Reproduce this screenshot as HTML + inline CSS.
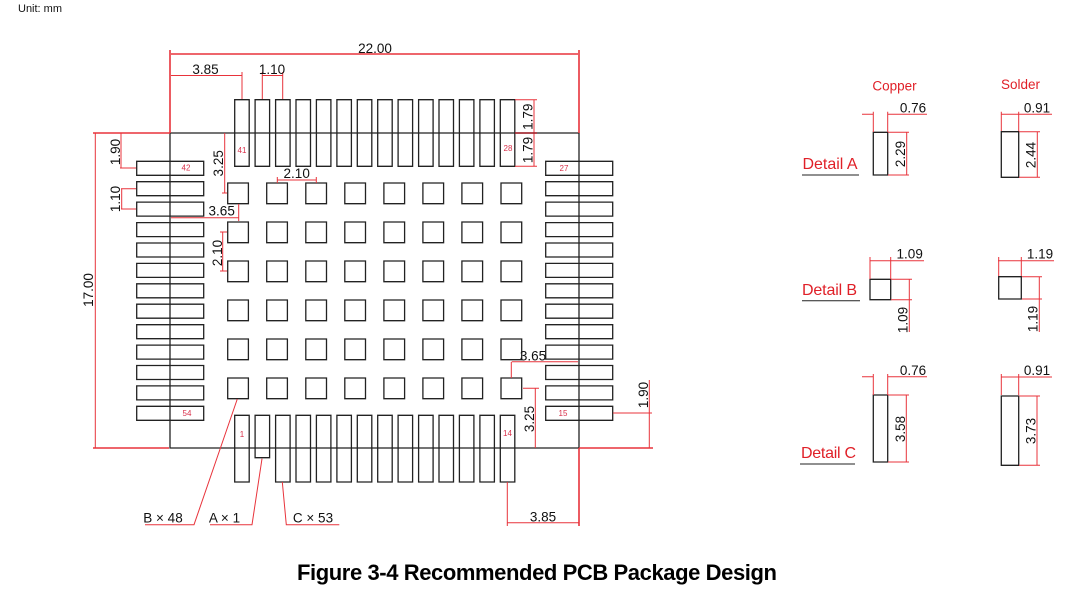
<!DOCTYPE html>
<html><head><meta charset="utf-8"><style>
html,body{margin:0;padding:0;background:#fff}
svg{display:block}
text{font-family:"Liberation Sans",sans-serif;font-size:13.5px;fill:#111;text-anchor:middle}
.r{stroke:#e8333b;stroke-width:1;fill:none}
.h{stroke:#e8333b;stroke-width:1.6;fill:none}
.k{stroke:#222;stroke-width:1.3;fill:none}
.n{font-size:8px;fill:#d9304a}
.d{font-size:16px;fill:#e02028;text-anchor:start}
.c{fill:#e02028}
</style></head><body>
<svg width="1082" height="593" viewBox="0 0 1082 593" xmlns="http://www.w3.org/2000/svg">
<text x="18" y="12" style="font-size:11px;text-anchor:start">Unit: mm</text>

<path class="k" d="M234.7 99.7h14.5v66.6h-14.5zM255.1 99.7h14.5v66.6h-14.5zM275.6 99.7h14.5v66.6h-14.5zM296 99.7h14.5v66.6h-14.5zM316.4 99.7h14.5v66.6h-14.5zM336.9 99.7h14.5v66.6h-14.5zM357.3 99.7h14.5v66.6h-14.5zM377.7 99.7h14.5v66.6h-14.5zM398.1 99.7h14.5v66.6h-14.5zM418.6 99.7h14.5v66.6h-14.5zM439 99.7h14.5v66.6h-14.5zM459.4 99.7h14.5v66.6h-14.5zM479.9 99.7h14.5v66.6h-14.5zM500.3 99.7h14.5v66.6h-14.5z"/>
<path class="k" d="M234.7 415.3h14.5v66.7h-14.5zM255.1 415.3h14.5v42.4h-14.5zM275.6 415.3h14.5v66.7h-14.5zM296 415.3h14.5v66.7h-14.5zM316.4 415.3h14.5v66.7h-14.5zM336.9 415.3h14.5v66.7h-14.5zM357.3 415.3h14.5v66.7h-14.5zM377.7 415.3h14.5v66.7h-14.5zM398.1 415.3h14.5v66.7h-14.5zM418.6 415.3h14.5v66.7h-14.5zM439 415.3h14.5v66.7h-14.5zM459.4 415.3h14.5v66.7h-14.5zM479.9 415.3h14.5v66.7h-14.5zM500.3 415.3h14.5v66.7h-14.5z"/>
<path class="k" d="M136.7 161.3h67v14h-67zM136.7 181.7h67v14h-67zM136.7 202.1h67v14h-67zM136.7 222.6h67v14h-67zM136.7 243h67v14h-67zM136.7 263.4h67v14h-67zM136.7 283.8h67v14h-67zM136.7 304.2h67v14h-67zM136.7 324.7h67v14h-67zM136.7 345.1h67v14h-67zM136.7 365.5h67v14h-67zM136.7 385.9h67v14h-67zM136.7 406.3h67v14h-67z"/>
<path class="k" d="M545.7 161.3h67v14h-67zM545.7 181.7h67v14h-67zM545.7 202.1h67v14h-67zM545.7 222.6h67v14h-67zM545.7 243h67v14h-67zM545.7 263.4h67v14h-67zM545.7 283.8h67v14h-67zM545.7 304.2h67v14h-67zM545.7 324.7h67v14h-67zM545.7 345.1h67v14h-67zM545.7 365.5h67v14h-67zM545.7 385.9h67v14h-67zM545.7 406.3h67v14h-67z"/>
<path class="k" d="M227.7 183h20.7v20.7h-20.7zM266.7 183h20.7v20.7h-20.7zM305.8 183h20.7v20.7h-20.7zM344.8 183h20.7v20.7h-20.7zM383.9 183h20.7v20.7h-20.7zM422.9 183h20.7v20.7h-20.7zM461.9 183h20.7v20.7h-20.7zM501 183h20.7v20.7h-20.7z
M227.7 222h20.7v20.7h-20.7zM266.7 222h20.7v20.7h-20.7zM305.8 222h20.7v20.7h-20.7zM344.8 222h20.7v20.7h-20.7zM383.9 222h20.7v20.7h-20.7zM422.9 222h20.7v20.7h-20.7zM461.9 222h20.7v20.7h-20.7zM501 222h20.7v20.7h-20.7z
M227.7 261h20.7v20.7h-20.7zM266.7 261h20.7v20.7h-20.7zM305.8 261h20.7v20.7h-20.7zM344.8 261h20.7v20.7h-20.7zM383.9 261h20.7v20.7h-20.7zM422.9 261h20.7v20.7h-20.7zM461.9 261h20.7v20.7h-20.7zM501 261h20.7v20.7h-20.7z
M227.7 300h20.7v20.7h-20.7zM266.7 300h20.7v20.7h-20.7zM305.8 300h20.7v20.7h-20.7zM344.8 300h20.7v20.7h-20.7zM383.9 300h20.7v20.7h-20.7zM422.9 300h20.7v20.7h-20.7zM461.9 300h20.7v20.7h-20.7zM501 300h20.7v20.7h-20.7z
M227.7 339h20.7v20.7h-20.7zM266.7 339h20.7v20.7h-20.7zM305.8 339h20.7v20.7h-20.7zM344.8 339h20.7v20.7h-20.7zM383.9 339h20.7v20.7h-20.7zM422.9 339h20.7v20.7h-20.7zM461.9 339h20.7v20.7h-20.7zM501 339h20.7v20.7h-20.7z
M227.7 378h20.7v20.7h-20.7zM266.7 378h20.7v20.7h-20.7zM305.8 378h20.7v20.7h-20.7zM344.8 378h20.7v20.7h-20.7zM383.9 378h20.7v20.7h-20.7zM422.9 378h20.7v20.7h-20.7zM461.9 378h20.7v20.7h-20.7zM501 378h20.7v20.7h-20.7z"/>
<path class="k" d="M170 133H579V448H170Z"/>

<path class="h" d="M171 54H578M170 50V133M579 50V133M93 133H170M93 448H169M579 448V526M579 448H653"/>
<path class="r" d="M171 75.5H242M242 72V99M262.3 72V99M282.7 72V99M262.3 75.5H282.7"/>
<path class="r" d="M95.3 133V448M121 133V168M120 168H136M121 188.7H136M121 209H136M121.7 188.7V209"/>
<path class="r" d="M224.7 133V193M222 193H227M277.3 177V183M316.3 177V183M277.3 180H316.3M171 217.7H238.7M238.7 204V221M222.7 232V271M220 232H227M220 271H227"/>
<path class="r" d="M515 99.7H537M515 166.3H537M534 99.7V166.3"/>
<path stroke="#a8202a" stroke-width="1.4" fill="none" d="M515 133H537"/>
<path class="r" d="M511.7 361.7H578M511.3 362V378M523 388.3H539M535.3 388.3V448M613 413H652M649.3 380V448M507.3 482V526M507.3 522.7H579"/>
<path class="r" d="M237.3 399L194 524.7H145M262 458.7L252 524.7H210M282.3 482L286.3 524.7H339.3"/>

<text x="375" y="53">22.00</text>
<text x="205.5" y="74">3.85</text>
<text x="272" y="74">1.10</text>
<text transform="translate(93,290) rotate(-90)">17.00</text>
<text transform="translate(120,152) rotate(-90)">1.90</text>
<text transform="translate(120,199) rotate(-90)">1.10</text>
<text transform="translate(223,163.3) rotate(-90)">3.25</text>
<text x="296.7" y="178">2.10</text>
<text x="221.7" y="215.7">3.65</text>
<text transform="translate(222,253) rotate(-90)">2.10</text>
<text transform="translate(532.7,116.7) rotate(-90)">1.79</text>
<text transform="translate(532.7,150) rotate(-90)">1.79</text>
<text x="533" y="360.7">3.65</text>
<text transform="translate(534,419) rotate(-90)">3.25</text>
<text transform="translate(648,395) rotate(-90)">1.90</text>
<text x="543" y="521.7">3.85</text>
<text x="163" y="522.7">B × 48</text>
<text x="224.5" y="522.7">A × 1</text>
<text x="313" y="522.7">C × 53</text>

<text class="n" x="186" y="170.5">42</text>
<text class="n" x="242" y="153">41</text>
<text class="n" x="508" y="151">28</text>
<text class="n" x="564" y="171">27</text>
<text class="n" x="187" y="416">54</text>
<text class="n" x="242" y="437">1</text>
<text class="n" x="507.5" y="436">14</text>
<text class="n" x="563" y="416">15</text>

<text class="c" x="894.5" y="90.7">Copper</text>
<text class="c" x="1020.5" y="89">Solder</text>

<path class="k" d="M873.3 132.3h14.4V175h-14.4zM1001.3 131.7h17.4v45.6h-17.4zM870 279.3h20.7v20.4H870zM998.7 276.7h22.6V299h-22.6zM873.3 395h14.4v67h-14.4zM1001.3 396h17.4v69.3h-17.4z"/>
<path class="k" style="stroke-width:1" d="M802 175H859M802 300.7H860M800 464H855"/>
<path class="r" d="M862 114.3H873M887.7 114.3H927M873.3 111.7V132M887.7 111.7V132M888 132.3H909M888 175H909M906.7 132.3V175"/>
<path class="r" d="M1001 114.3H1052M1001.3 111.7V131M1018.7 111.7V131M1019 131.7H1040M1019 177.3H1040M1037.3 131.7V177.3"/>
<path class="r" d="M870 260.7H924M870 257V279M890.7 257V279M891 279.3H912M891 299.7H912M909.3 279V332"/>
<path class="r" d="M998 260.7H1054M998.7 257V276M1021.3 257V276M1022 276.7H1042M1022 299H1042M1039.3 276.7V332"/>
<path class="r" d="M862 376.7H873M887.7 376.7H927M873.3 374V395M887.7 374V395M888 395H909M888 462H909M906.3 395V462"/>
<path class="r" d="M1001 377H1052M1001.3 374V395M1018.7 374V395M1019 396H1040M1019 465.3H1040M1037 396V465.3"/>

<text x="913" y="112.7">0.76</text>
<text x="1037" y="112.7">0.91</text>
<text transform="translate(905,154) rotate(-90)">2.29</text>
<text transform="translate(1035.5,155) rotate(-90)">2.44</text>
<text x="909.7" y="258.3">1.09</text>
<text x="1040" y="258.3">1.19</text>
<text transform="translate(907.7,320) rotate(-90)">1.09</text>
<text transform="translate(1037.5,319) rotate(-90)">1.19</text>
<text x="913" y="375">0.76</text>
<text x="1037" y="375">0.91</text>
<text transform="translate(905,429) rotate(-90)">3.58</text>
<text transform="translate(1035.5,431) rotate(-90)">3.73</text>

<text class="d" x="802.5" y="169" textLength="55">Detail A</text>
<text class="d" x="802" y="295" textLength="55">Detail B</text>
<text class="d" x="801" y="458" textLength="55">Detail C</text>

<text x="537" y="580" textLength="480" style="font-size:22px;font-weight:bold;fill:#000">Figure 3-4 Recommended PCB Package Design</text>
</svg>
</body></html>
